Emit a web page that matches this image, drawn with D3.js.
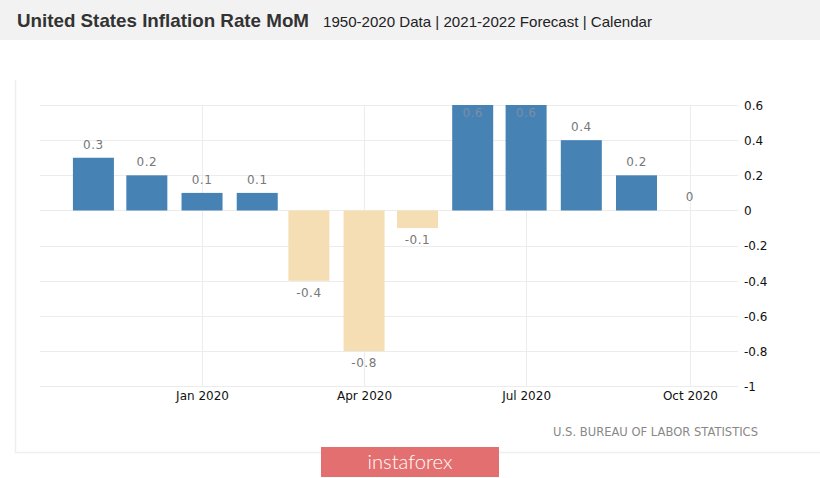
<!DOCTYPE html>
<html><head><meta charset="utf-8">
<script src="https://cdn.jsdelivr.net/npm/d3@7"></script>
<style>
body{margin:0;padding:0;background:#fff;}
svg{display:block;}
</style></head>
<body>
<svg id="chart" width="820" height="478"></svg>
<script>
const months = ["2019-11","2019-12","2020-01","2020-02","2020-03","2020-04","2020-05","2020-06","2020-07","2020-08","2020-09","2020-10"];
const values = [0.3,0.2,0.1,0.1,-0.4,-0.8,-0.1,0.6,0.6,0.4,0.2,0];
const valueLabels = ["0.3","0.2","0.1","0.1","-0.4","-0.8","-0.1","0.6","0.6","0.4","0.2","0"];
const yTicks = [0.6,0.4,0.2,0,-0.2,-0.4,-0.6,-0.8,-1];
const yTickLabels = ["0.6","0.4","0.2","0","-0.2","-0.4","-0.6","-0.8","-1"];
const xTicks = ["2020-01","2020-04","2020-07","2020-10"];
const xTickLabels = ["Jan 2020","Apr 2020","Jul 2020","Oct 2020"];

const parse = d3.timeParse("%Y-%m");
const svg = d3.select("#chart");

// header
svg.append("rect").attr("x",0).attr("y",0).attr("width",820).attr("height",40).attr("fill","#f2f2f2");
svg.append("text").attr("x",17).attr("y",27).attr("font-family","Liberation Sans, Arial, sans-serif")
  .attr("font-weight","bold").attr("font-size",19).attr("fill","#333").attr("textLength",292).attr("lengthAdjust","spacingAndGlyphs")
  .text("United States Inflation Rate MoM");
svg.append("text").attr("x",323).attr("y",27).attr("font-family","Liberation Sans, Arial, sans-serif")
  .attr("font-size",15).attr("fill","#222").attr("textLength",329).attr("lengthAdjust","spacingAndGlyphs")
  .text("1950-2020 Data | 2021-2022 Forecast | Calendar");

// panel border
svg.append("path").attr("d","M15.5,80 V452.5 H820").attr("fill","none").attr("stroke","#eeeeee").attr("stroke-width",1.5);

const x = d3.scaleTime().domain([new Date(2019,9,2), new Date(2020,9,28)]).range([40,738]);
const y = d3.scaleLinear().domain([-1,0.6]).range([386.3,105]);
const barW = 41;

const font = "DejaVu Sans, Verdana, sans-serif";

// gridlines
const g = svg.append("g");
g.selectAll("line.h").data(yTicks).join("line")
  .attr("x1",40).attr("x2",738).attr("y1",d=>Math.round(y(d))+0.5).attr("y2",d=>Math.round(y(d))+0.5)
  .attr("stroke","#ececec").attr("stroke-width",1);
g.selectAll("line.v").data(xTicks).join("line")
  .attr("x1",d=>Math.round(x(parse(d)))+0.5).attr("x2",d=>Math.round(x(parse(d)))+0.5)
  .attr("y1",105).attr("y2",387).attr("stroke","#ececec").attr("stroke-width",1);

// y axis labels
const yAxis = d3.axisRight(y).tickValues(yTicks).tickSize(0).tickPadding(0)
  .tickFormat((d,i)=>yTickLabels[i]);
const ya = svg.append("g").attr("transform","translate(744,0)").call(yAxis);
ya.select(".domain").remove();
ya.selectAll("text").attr("font-family",font).attr("font-size",12).attr("fill","#111").attr("dy","0.35em");

// x axis labels
const xAxis = d3.axisBottom(x).tickValues(xTicks.map(parse)).tickSize(0).tickPadding(0)
  .tickFormat((d,i)=>xTickLabels[i]);
const xa = svg.append("g").attr("transform","translate(0,391)").call(xAxis);
xa.select(".domain").remove();
xa.selectAll("text").attr("font-family",font).attr("font-size",12).attr("fill","#111").attr("dy","0.71em");

// bars
svg.selectAll("rect.bar").data(values).join("rect").attr("class","bar")
  .attr("x",(d,i)=>x(parse(months[i]))-barW/2)
  .attr("width",barW)
  .attr("y",d=>y(Math.max(0,d)))
  .attr("height",d=>Math.abs(y(d)-y(0)))
  .attr("fill",d=>d>=0?"#4682b4":"#f5deb3");

// value labels
svg.selectAll("text.val").data(values).join("text").attr("class","val")
  .attr("x",(d,i)=>x(parse(months[i])))
  .attr("y",d=>{
    if (d>=0.6) return y(d)+12;
    if (d>=0) return y(d)-9;
    return y(d)+16;
  })
  .attr("text-anchor","middle").attr("font-family",font).attr("font-size",12)
  .attr("letter-spacing",0.5)
  .attr("fill",d=>d>=0.6?"#7c8ea3":"#777")
  .text((d,i)=>valueLabels[i]);

// source
svg.append("text").attr("x",758).attr("y",436).attr("text-anchor","end")
  .attr("font-family",font).attr("font-size",11.5).attr("fill","#888")
  .attr("textLength",205).attr("lengthAdjust","spacingAndGlyphs")
  .text("U.S. BUREAU OF LABOR STATISTICS");

// watermark
svg.append("rect").attr("x",321).attr("y",447).attr("width",178).attr("height",30).attr("fill","#e46f70");
svg.append("text").attr("x",410).attr("y",469).attr("text-anchor","middle")
  .attr("font-family","Lato, Open Sans, sans-serif").attr("font-weight",300).attr("font-size",20).attr("fill","#fff")
  .attr("textLength",85).attr("lengthAdjust","spacingAndGlyphs")
  .text("instaforex");
</script>
</body></html>
